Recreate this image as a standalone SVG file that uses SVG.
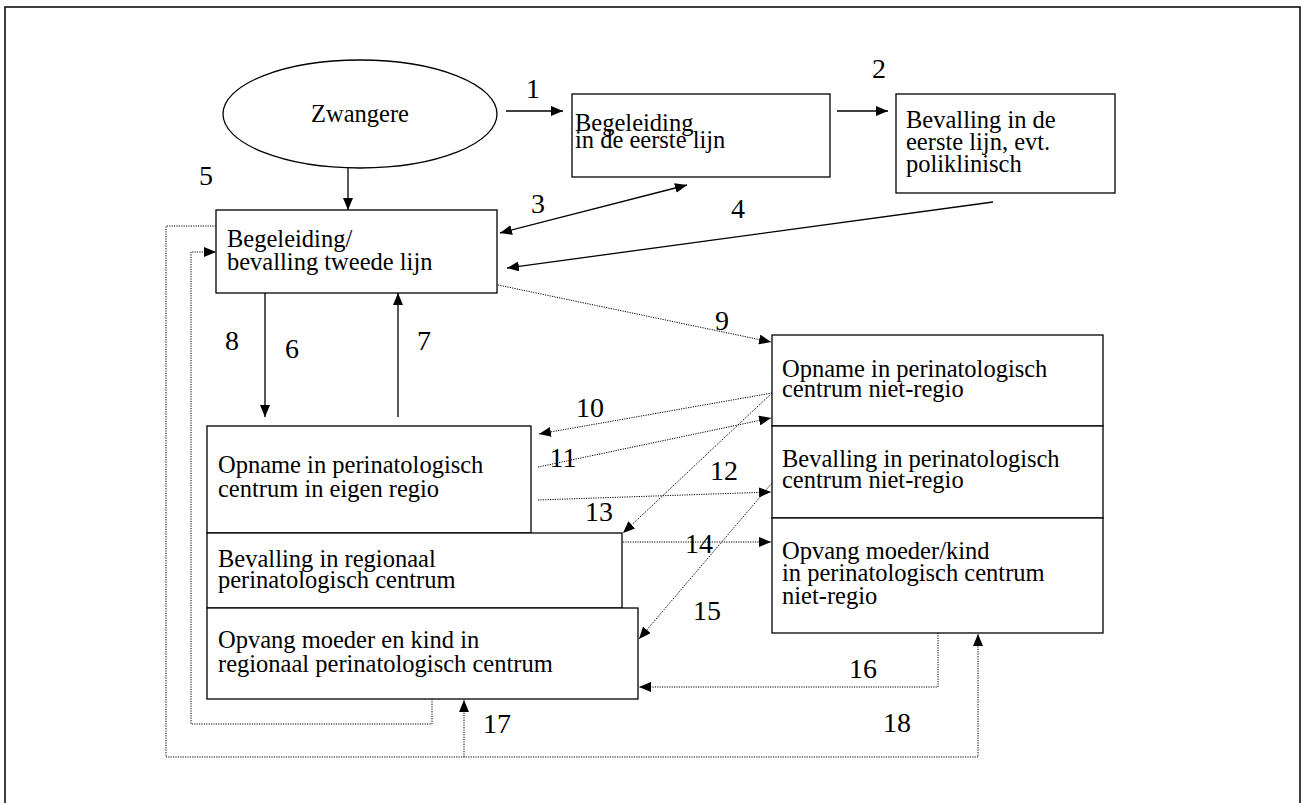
<svg xmlns="http://www.w3.org/2000/svg" width="1303" height="803" viewBox="0 0 1303 803">
<style>
.box{fill:#fff;stroke:#000;stroke-width:1.3}
.t{font-family:"Liberation Serif","Times New Roman",serif;font-size:24.5px;fill:#000}
.n{font-family:"Liberation Serif","Times New Roman",serif;font-size:28px;fill:#000;text-anchor:middle}
.s{fill:none;stroke:#000;stroke-width:1.3}
.d{fill:none;stroke:#000;stroke-width:1;stroke-dasharray:1.2 1.2}
</style>
<defs>
<marker id="ah" markerUnits="userSpaceOnUse" markerWidth="12" markerHeight="10" refX="12" refY="5" orient="auto">
<path d="M0,0 L12,5 L0,10 Z" fill="#000"/>
</marker>
<marker id="ahs" markerUnits="userSpaceOnUse" markerWidth="12" markerHeight="10" refX="0" refY="5" orient="auto">
<path d="M12,0 L0,5 L12,10 Z" fill="#000"/>
</marker>
</defs>
<rect x="5" y="7" width="1295" height="820" fill="none" stroke="#000" stroke-width="1.5"/>

<g id="connectors">
<line class="s" x1="348" y1="168" x2="348" y2="210" marker-end="url(#ah)"/>
<line class="s" x1="506" y1="111" x2="563" y2="111" marker-end="url(#ah)"/>
<line class="s" x1="837" y1="111" x2="888" y2="111" marker-end="url(#ah)"/>
<line class="s" x1="500" y1="233" x2="687" y2="185" marker-start="url(#ahs)" marker-end="url(#ah)"/>
<line class="s" x1="993" y1="202" x2="507" y2="268" marker-end="url(#ah)"/>
<line class="s" x1="265" y1="293" x2="265" y2="417" marker-end="url(#ah)"/>
<line class="s" x1="398" y1="417" x2="398" y2="293" marker-end="url(#ah)"/>
<line class="d" x1="498" y1="285" x2="771" y2="342" marker-end="url(#ah)"/>
<line class="d" x1="772" y1="393" x2="539" y2="434" marker-end="url(#ah)"/>
<line class="d" x1="538" y1="467" x2="771" y2="418" marker-end="url(#ah)"/>
<line class="d" x1="772" y1="393" x2="623" y2="533" marker-end="url(#ah)"/>
<line class="d" x1="538" y1="500" x2="771" y2="492" marker-end="url(#ah)"/>
<line class="d" x1="623" y1="542" x2="771" y2="542" marker-end="url(#ah)"/>
<line class="d" x1="772" y1="483" x2="639" y2="639" marker-end="url(#ah)"/>
<polyline class="d" points="938,633 938,687 639,687" marker-end="url(#ah)"/>
<polyline class="d" points="216,226 166,226 166,757 978,757 978,634" marker-end="url(#ah)"/>
<line class="d" x1="464" y1="757" x2="464" y2="700" marker-end="url(#ah)"/>
<polyline class="d" points="432,699 432,724 191,724 191,252 216,252" marker-end="url(#ah)"/>
</g>

<g id="zwangere">
<ellipse cx="360" cy="114" rx="137" ry="54" class="box"/>
<text class="t" x="360" y="122" text-anchor="middle">Zwangere</text>
</g>
<g id="begeleiding-eerste-lijn">
<rect class="box" x="572" y="94" width="258" height="83"/>
<text class="t" x="575" y="131">Begeleiding</text>
<text class="t" x="575" y="148">in de eerste lijn</text>
</g>
<g id="bevalling-eerste-lijn">
<rect class="box" x="896" y="94" width="219" height="99"/>
<text class="t" x="906" y="128">Bevalling in de</text>
<text class="t" x="906" y="150">eerste lijn, evt.</text>
<text class="t" x="906" y="172">poliklinisch</text>
</g>
<g id="begeleiding-tweede-lijn">
<rect class="box" x="216" y="210" width="281" height="83"/>
<text class="t" x="227" y="247">Begeleiding/</text>
<text class="t" x="227" y="270">bevalling tweede lijn</text>
</g>
<g id="opname-eigen-regio">
<rect class="box" x="207" y="426" width="324" height="107"/>
<text class="t" x="218" y="473">Opname in perinatologisch</text>
<text class="t" x="218" y="497">centrum in eigen regio</text>
</g>
<g id="bevalling-regionaal">
<rect class="box" x="207" y="533" width="415" height="75"/>
<text class="t" x="218" y="567">Bevalling in regionaal</text>
<text class="t" x="218" y="588">perinatologisch centrum</text>
</g>
<g id="opvang-regionaal">
<rect class="box" x="207" y="608" width="431" height="91"/>
<text class="t" x="218" y="648">Opvang moeder en kind in</text>
<text class="t" x="218" y="672">regionaal perinatologisch centrum</text>
</g>
<g id="opname-niet-regio">
<rect class="box" x="772" y="335" width="331" height="91"/>
<text class="t" x="782" y="377">Opname in perinatologisch</text>
<text class="t" x="782" y="397">centrum niet-regio</text>
</g>
<g id="bevalling-niet-regio">
<rect class="box" x="772" y="426" width="331" height="92"/>
<text class="t" x="782" y="467">Bevalling in perinatologisch</text>
<text class="t" x="782" y="488">centrum niet-regio</text>
</g>
<g id="opvang-niet-regio">
<rect class="box" x="772" y="518" width="331" height="115"/>
<text class="t" x="782" y="559">Opvang moeder/kind</text>
<text class="t" x="782" y="581">in perinatologisch centrum</text>
<text class="t" x="782" y="604">niet-regio</text>
</g>

<g id="labels">
<text class="n" x="533" y="98">1</text>
<text class="n" x="879" y="78">2</text>
<text class="n" x="538" y="213">3</text>
<text class="n" x="738" y="218">4</text>
<text class="n" x="206" y="185">5</text>
<text class="n" x="292" y="358">6</text>
<text class="n" x="424" y="350">7</text>
<text class="n" x="232" y="350">8</text>
<text class="n" x="722" y="330">9</text>
<text class="n" x="590" y="417">10</text>
<text class="n" x="563" y="467">11</text>
<text class="n" x="724" y="480">12</text>
<text class="n" x="599" y="521">13</text>
<text class="n" x="699" y="553">14</text>
<text class="n" x="707" y="620">15</text>
<text class="n" x="863" y="678">16</text>
<text class="n" x="497" y="733">17</text>
<text class="n" x="897" y="732">18</text>
</g>
</svg>
